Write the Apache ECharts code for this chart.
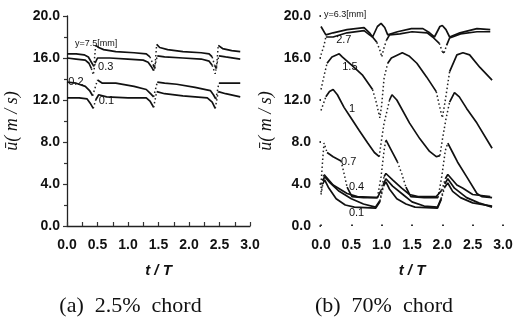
<!DOCTYPE html>
<html><head><meta charset="utf-8">
<script src="https://cdn.jsdelivr.net/npm/echarts@6/dist/echarts.min.js"></script>
<style>html,body{margin:0;padding:0;background:#fff}#c{width:518px;height:320px}</style>
</head><body><div id="c"></div>
<script>
// ---- data: (a) 2.5% chord, [t/T, u]
var a75 = [[0,16.4],[0.15,16.4],[0.28,16.3],[0.35,16.1],[0.4,15.6],[0.44,15.2],[0.47,17.2],[0.52,17.0],[0.6,16.8],[0.8,16.6],[1.1,16.5],[1.3,16.4],[1.36,16.1],[1.41,15.4],[1.44,15.0],[1.47,17.3],[1.52,17.0],[1.65,16.8],[1.9,16.6],[2.2,16.5],[2.33,16.4],[2.38,16.1],[2.42,15.3],[2.45,15.0],[2.48,17.2],[2.55,16.9],[2.7,16.7],[2.84,16.6]];
var a03 = [[0,16.0],[0.15,15.9],[0.3,15.8],[0.36,15.5],[0.4,15.0],[0.43,14.4],[0.46,15.5],[0.5,16.0],[0.7,16.0],[1.0,15.9],[1.25,15.8],[1.33,15.6],[1.38,15.2],[1.42,14.8],[1.45,15.5],[1.48,16.2],[1.6,16.1],[1.9,16.0],[2.2,15.9],[2.33,15.7],[2.38,15.3],[2.43,14.5],[2.46,15.5],[2.49,16.2],[2.6,16.1],[2.84,15.9]];
var a02 = [[0,13.7],[0.15,13.6],[0.3,13.3],[0.37,12.9],[0.42,12.4],[0.5,13.9],[0.58,13.6],[0.8,13.6],[1.1,13.3],[1.3,13.0],[1.37,12.6],[1.42,12.3],[1.48,13.7],[1.6,13.6],[1.8,13.5],[2.1,13.2],[2.35,12.9],[2.4,12.5],[2.44,12.1],[2.49,13.6],[2.6,13.6],[2.84,13.6]];
var a01 = [[0,12.2],[0.2,12.2],[0.33,12.1],[0.38,11.7],[0.43,11.2],[0.47,12.0],[0.52,12.5],[0.65,12.3],[1.0,12.2],[1.3,12.2],[1.36,11.9],[1.42,11.3],[1.47,12.8],[1.6,12.6],[1.9,12.4],[2.3,12.2],[2.38,11.8],[2.43,11.2],[2.48,12.8],[2.6,12.6],[2.84,12.3]];
// ---- data: (b) 70% chord
var b63 = [[0,19.0],[0.08,18.2],[0.2,18.4],[0.43,18.7],[0.71,18.9],[0.8,18.4],[0.85,18.0],[0.93,19.0],[0.99,19.3],[1.05,18.9],[1.1,18.2],[1.26,18.5],[1.49,18.8],[1.68,18.8],[1.79,18.4],[1.87,18.0],[1.96,19.0],[2.0,19.1],[2.06,18.7],[2.12,18.0],[2.29,18.4],[2.57,18.8],[2.79,18.7]];
var b27 = [[0,16.3],[0.05,17.2],[0.08,18.0],[0.2,18.0],[0.43,18.4],[0.71,18.6],[0.8,18.2],[0.85,18.0],[0.92,17.5],[0.98,16.6],[1.0,16.1],[1.04,17.0],[1.08,17.7],[1.13,18.2],[1.3,18.3],[1.5,18.5],[1.75,18.4],[1.84,18.0],[1.95,17.4],[2.0,16.6],[2.03,16.5],[2.07,17.2],[2.12,17.9],[2.3,18.3],[2.57,18.5],[2.79,18.5]];
var b15 = [[0,13.0],[0.05,14.3],[0.1,15.5],[0.18,16.1],[0.3,16.4],[0.35,16.1],[0.51,15.3],[0.68,14.4],[0.85,13.0],[0.91,11.8],[0.97,10.3],[1.0,11.5],[1.04,14.1],[1.1,15.5],[1.16,16.0],[1.34,16.5],[1.45,16.2],[1.58,15.5],[1.74,14.2],[1.9,12.8],[1.95,11.5],[2.0,10.3],[2.05,12.0],[2.12,14.7],[2.24,16.3],[2.34,16.5],[2.45,16.3],[2.62,15.1],[2.82,13.9]];
var b1 = [[0,11.0],[0.08,12.3],[0.14,12.8],[0.2,13.0],[0.27,12.5],[0.38,11.3],[0.46,10.6],[0.63,9.1],[0.77,7.9],[0.88,7.0],[0.96,6.6],[0.99,7.9],[1.04,9.8],[1.09,11.0],[1.13,12.0],[1.17,12.5],[1.25,12.0],[1.46,9.8],[1.63,8.3],[1.79,7.1],[1.9,6.6],[1.96,6.7],[2.0,8.2],[2.06,10.2],[2.12,11.8],[2.2,12.7],[2.28,12.3],[2.4,11.2],[2.57,9.8],[2.82,7.4]];
var b07 = [[0,4.0],[0.03,6.5],[0.05,7.9],[0.1,7.0],[0.2,6.6],[0.33,6.2],[0.38,5.0],[0.43,3.7],[0.51,2.8],[0.7,2.7],[0.93,2.7],[0.99,4.7],[1.04,7.2],[1.07,8.2],[1.16,7.2],[1.26,6.1],[1.33,5.0],[1.4,3.7],[1.48,2.8],[1.7,2.7],[1.93,2.7],[1.99,4.7],[2.05,7.2],[2.09,7.9],[2.17,7.0],[2.25,6.1],[2.4,4.7],[2.57,3.1],[2.65,2.8],[2.82,2.7]];
var b04 = [[0,3.6],[0.03,4.6],[0.05,4.9],[0.2,3.9],[0.43,3.1],[0.6,2.8],[0.93,2.7],[0.99,3.4],[1.04,4.7],[1.07,5.0],[1.18,4.4],[1.33,3.6],[1.46,3.0],[1.6,2.8],[1.9,2.8],[1.99,3.4],[2.05,4.5],[2.09,4.9],[2.24,3.9],[2.34,3.6],[2.5,3.0],[2.79,2.8]];
var b02 = [[0,3.2],[0.03,4.3],[0.06,4.7],[0.15,4.1],[0.3,3.3],[0.5,2.6],[0.7,2.1],[0.9,1.8],[0.97,2.4],[1.03,4.0],[1.07,4.5],[1.18,3.8],[1.35,3.0],[1.5,2.3],[1.7,1.9],[1.92,1.8],[1.98,2.6],[2.04,4.0],[2.09,4.5],[2.2,3.6],[2.4,2.7],[2.6,2.2],[2.82,1.8]];
var b01 = [[0,3.0],[0.03,4.0],[0.06,4.4],[0.12,3.7],[0.25,2.6],[0.4,2.0],[0.55,1.8],[0.9,1.7],[0.97,2.3],[1.03,3.8],[1.07,4.2],[1.13,3.5],[1.25,2.6],[1.4,2.1],[1.55,1.8],[1.92,1.7],[1.98,2.5],[2.04,3.7],[2.09,4.1],[2.17,3.3],[2.3,2.7],[2.5,2.2],[2.82,1.9]];
var yTicks = [0, 4, 8, 12, 16, 20];
var xTicks = [0, 0.5, 1, 1.5, 2, 2.5, 3];
// curve labels: [text, t, u, panel]
var curveLabels = [
  ['y=7.5[mm]', 0.13, 17.4, 0], ['0.3', 0.51, 15.1, 0], ['0.2', 0.02, 13.7, 0], ['0.1', 0.52, 11.9, 0],
  ['y=6.3[mm]', 0.05, 20.1, 1], ['2.7', 0.25, 17.7, 1], ['1.5', 0.35, 15.1, 1], ['1', 0.46, 11.1, 1],
  ['0.7', 0.33, 6.1, 1], ['0.4', 0.46, 3.7, 1], ['0.1', 0.46, 1.2, 1]
];
var captions = ['(a)  2.5%  chord', '(b)  70%  chord'];

// split curve into solid (gentle) and dotted (steep) parts
function split(curve, thr) {
  var solid = [], dot = [];
  for (var i = 0; i < curve.length - 1; i++) {
    var p = curve[i], q = curve[i + 1];
    var steep = Math.abs((q[1] - p[1]) / (q[0] - p[0])) > thr;
    var tgt = steep ? dot : solid;
    if (tgt.length && tgt[tgt.length - 1] !== '-' && tgt[tgt.length - 1][0] === p[0]) { tgt.push(q); }
    else { if (tgt.length) tgt.push('-'); tgt.push(p, q); }
  }
  return [solid.map(function(d){return d === '-' ? [NaN, NaN] : d;}),
          dot.map(function(d){return d === '-' ? [NaN, NaN] : d;})];
}

var series = [];
function addCurve(curve, gi) {
  var s = split(curve, 14);
  series.push({type: 'line', xAxisIndex: gi, yAxisIndex: gi, data: s[0], showSymbol: false, connectNulls: false,
    lineStyle: {color: '#111', width: 1.7}, silent: true, animation: false});
  series.push({type: 'line', xAxisIndex: gi, yAxisIndex: gi, data: s[1], showSymbol: false, connectNulls: false,
    lineStyle: {color: '#222', width: 1.5, type: [1.5, 2.5]}, silent: true, animation: false});
}
[a75, a03, a02, a01].forEach(function(c){ addCurve(c, 0); });
[b63, b27, b15, b1, b07, b04, b02, b01].forEach(function(c){ addCurve(c, 1); });

var labFont = {fontFamily: 'Liberation Sans', fontWeight: 'bold', fontSize: 14, color: '#111'};
function xAx(gi, showLine) {
  return {type: 'value', gridIndex: gi, min: 0, max: 3, interval: 0.5,
    name: 't / T', nameLocation: 'middle', nameGap: 37,
    nameTextStyle: {fontFamily: 'Liberation Sans', fontWeight: 'bold', fontStyle: 'italic', fontSize: 15, color: '#111'},
    axisLine: {show: showLine, lineStyle: {color: '#222', width: 1.3}},
    axisTick: {show: true, inside: true, length: showLine ? 4 : 1.5, lineStyle: {color: '#333', width: showLine ? 1.2 : 2}},
    minorTick: {show: showLine, splitNumber: 2, length: 4, lineStyle: {color: '#333', width: 1.2}},
    splitLine: {show: false},
    axisLabel: Object.assign({margin: 12, formatter: function(v){return v.toFixed(1);}}, labFont)};
}
function yAx(gi, showLine, gap, margin) {
  return {type: 'value', gridIndex: gi, min: 0, max: 20, interval: 4,
    name: '\u016B( m / s)', nameLocation: 'middle', nameGap: gap, nameRotate: 90,
    nameTextStyle: {fontFamily: 'Liberation Serif', fontStyle: 'italic', fontSize: 18, color: '#111'},
    axisLine: {show: showLine, lineStyle: {color: '#222', width: 1.3}},
    axisTick: {show: true, inside: false, length: showLine ? 4 : 1.5, lineStyle: {color: '#333', width: showLine ? 1.2 : 2}},
    minorTick: {show: showLine, splitNumber: 2, length: 3, lineStyle: {color: '#333', width: 1.2}},
    splitLine: {show: false},
    axisLabel: Object.assign({margin: margin, formatter: function(v){return v.toFixed(1);}}, labFont)};
}

var chart = echarts.init(document.getElementById('c'), null, {renderer: 'canvas'});
var option = {
  backgroundColor: '#fff',
  animation: false,
  grid: [{left: 67, top: 16, width: 183, height: 210}, {left: 321, top: 16, width: 182, height: 210}],
  xAxis: [xAx(0, true), xAx(1, false)],
  yAxis: [yAx(0, true, 46, 7), yAx(1, false, 46, 10)],
  series: series
};
chart.setOption(option);

var graphics = [];
curveLabels.forEach(function(l) {
  var px = chart.convertToPixel({gridIndex: l[3]}, [l[1], l[2]]);
  graphics.push({type: 'text', x: px[0], y: px[1], silent: true,
    style: {text: l[0], fill: '#111', font: (l[0].length > 4 ? '9px' : '11px') + ' "Liberation Sans"',
      textAlign: 'left', textVerticalAlign: 'middle'}});
});
[0, 1].forEach(function(gi) {
  var a = chart.convertToPixel({gridIndex: gi}, [0, 0]), b = chart.convertToPixel({gridIndex: gi}, [3, 0]);
  graphics.push({type: 'text', x: (a[0] + b[0]) / 2 - 28, y: 306, silent: true,
    style: {text: captions[gi], fill: '#111', font: '22px "Liberation Serif"', textAlign: 'center', textVerticalAlign: 'middle'}});
});
chart.setOption({graphic: graphics});
</script></body></html>
